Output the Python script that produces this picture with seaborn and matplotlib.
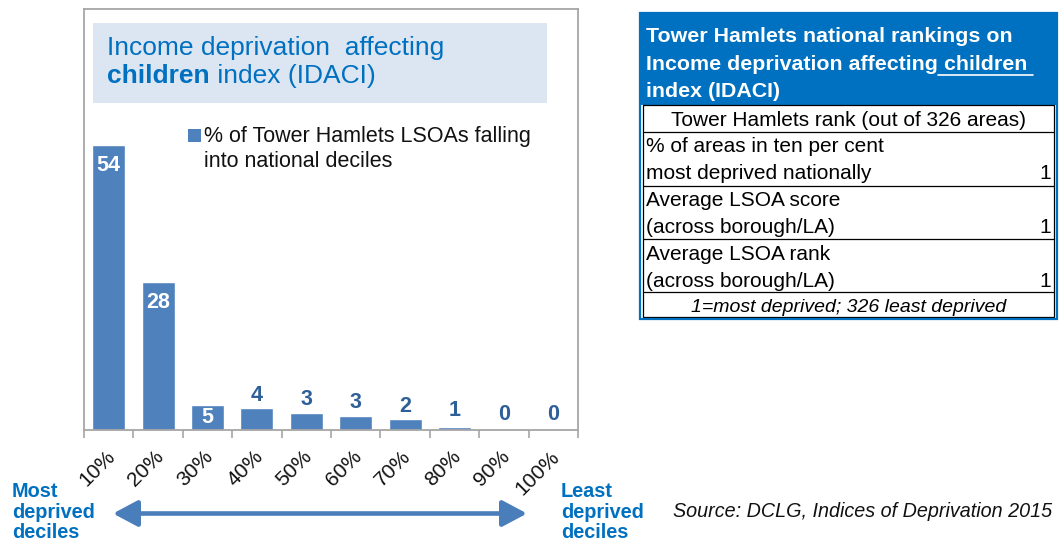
import matplotlib
matplotlib.use("Agg")
import matplotlib.pyplot as plt
import matplotlib.transforms as mtransforms
import seaborn as sns
import pandas as pd
from matplotlib.patches import Rectangle, FancyArrowPatch
from matplotlib.lines import Line2D

# ---------------- data ----------------
deciles = ['10%', '20%', '30%', '40%', '50%', '60%', '70%', '80%', '90%', '100%']
pct_lsoas = [54, 28, 4.7, 4.1, 3.3, 2.7, 2.0, 0.6, 0, 0]
legend_label = "% of Tower Hamlets LSOAs falling\ninto national deciles"

table_title = ["Tower Hamlets national rankings on",
               "Income deprivation affecting", " children ", "index (IDACI)"]
table_subhead = "Tower Hamlets rank (out of 326 areas)"
table_rows = [("% of areas in ten per cent", "most deprived nationally", "1"),
              ("Average LSOA score", "(across borough/LA)", "1"),
              ("Average LSOA rank", "(across borough/LA)", "1")]
table_note = "1=most deprived; 326 least deprived"
source_text = "Source: DCLG, Indices of Deprivation 2015"

# ---------------- style ----------------
sns.set_style("white")
plt.rcParams['font.family'] = ['Liberation Sans', 'DejaVu Sans']

W, H = 1061, 544
fig = plt.figure(figsize=(W / 100, H / 100), dpi=100)

def fx(px):
    return px / W

def fy(py):
    return 1 - py / H

BAR = '#4F81BD'
BLUE = '#0070C0'
GREY = '#A6A6A6'
LABEL_DARK = '#2F5F98'

# ---------------- bar chart ----------------
ax_l, ax_r, ax_t, ax_b = 84, 578, 9, 430
ax = fig.add_axes([fx(ax_l), fy(ax_b), (ax_r - ax_l) / W, (ax_b - ax_t) / H])
df = pd.DataFrame({'decile': deciles, 'pct': pct_lsoas})
sns.barplot(data=df, x='decile', y='pct', color=BAR, saturation=1,
            width=0.67, ax=ax)
ax.set_xlim(-0.5, len(deciles) - 0.5)
ax.set_ylim(0, 79.8)
ax.set_xlabel('')
ax.set_ylabel('')
ax.set_yticks([])
for s in ax.spines.values():
    s.set_visible(True)
    s.set_color(GREY)
    s.set_linewidth(1.3)
ax.set_xticks(range(len(deciles)))
ax.set_xticklabels(deciles, rotation=45, ha='right', va='center',
                   rotation_mode='anchor', fontsize=15, color='#111111')
ax.tick_params(axis='x', which='major', length=0, pad=17)
shift = mtransforms.ScaledTranslation(3 / 100, 0, fig.dpi_scale_trans)
for lab in ax.get_xticklabels():
    lab.set_transform(lab.get_transform() + shift)
ax.set_xticks([i - 0.5 for i in range(len(deciles) + 1)], minor=True)
ax.tick_params(axis='x', which='minor', length=5.5, width=1.2, color=GREY,
               direction='out', bottom=True)

# bar labels
fig.canvas.draw()
px_per_unit = (ax_b - ax_t) / 79.8
for i, v in enumerate(pct_lsoas):
    txt = f"{v:.0f}"
    h_px = v * px_per_unit
    if v >= 4.5:
        off = -min(20, h_px / 2)
        ax.annotate(txt, (i, v), xytext=(0, off * 0.72), textcoords='offset points',
                    ha='center', va='center', fontsize=15.5, fontweight='bold',
                    color='white')
    else:
        off = 16 if v < 1 else 13
        ax.annotate(txt, (i, v), xytext=(0, off * 0.72), textcoords='offset points',
                    ha='center', va='center', fontsize=15.5, fontweight='bold',
                    color=LABEL_DARK)

# title box
fig.patches.append(Rectangle((fx(93), fy(103)), (547 - 93) / W, (103 - 23) / H,
                             transform=fig.transFigure, facecolor='#DCE6F2',
                             edgecolor='none', zorder=3))
tfs = 19
fig.text(fx(107), fy(55), "Income deprivation  affecting", fontsize=tfs,
         color=BLUE, va='baseline', ha='left', zorder=4)
r = fig.canvas.get_renderer()
t_b = fig.text(fx(107), fy(83), "children", fontsize=tfs, fontweight='bold',
               color=BLUE, va='baseline', ha='left', zorder=4)
bb = t_b.get_window_extent(renderer=r)
fig.text(bb.x1 / W, fy(83), " index (IDACI)", fontsize=tfs,
         color=BLUE, va='baseline', ha='left', zorder=4)

# legend
fig.patches.append(Rectangle((fx(188), fy(142)), 13 / W, 13 / H,
                             transform=fig.transFigure, facecolor=BAR,
                             edgecolor='none', zorder=4))
for k, line in enumerate(legend_label.split("\n")):
    fig.text(fx(204), fy(142 + 24.5 * k), line, fontsize=15.5, color='#111111',
             va='baseline', ha='left', zorder=4)

# bottom annotations
for k, line in enumerate(["Most", "deprived", "deciles"]):
    fig.text(fx(12), fy(497 + 20.5 * k), line, fontsize=14.3, fontweight='bold',
             color=BLUE, va='baseline', ha='left')
for k, line in enumerate(["Least", "deprived", "deciles"]):
    fig.text(fx(561), fy(497 + 20.5 * k), line, fontsize=14.3, fontweight='bold',
             color=BLUE, va='baseline', ha='left')
arrow = FancyArrowPatch((fx(113), fy(513.5)), (fx(527), fy(513.5)),
                        transform=fig.transFigure,
                        arrowstyle='<|-|>,head_length=15,head_width=8',
                        mutation_scale=1, lw=3.3, color='#4A7EBB',
                        shrinkA=0, shrinkB=0)
fig.patches.append(arrow)

fig.text(fx(673), fy(517), source_text, fontsize=14.25, style='italic',
         color='#111111', va='baseline', ha='left')

# ---------------- ranking table ----------------
tl, tr, tt, tb = 640, 1057, 13, 319
fig.patches.append(Rectangle((fx(tl), fy(105)), (tr - tl) / W, (105 - tt) / H,
                             transform=fig.transFigure, facecolor=BLUE,
                             edgecolor='none'))
fig.patches.append(Rectangle((fx(643), fy(317)), (1054 - 643) / W, (317 - 105) / H,
                             transform=fig.transFigure, facecolor='white',
                             edgecolor='black', lw=0.9))
for yy in [132, 186, 239, 292]:
    fig.lines.append(Line2D([fx(643), fx(1054)], [fy(yy), fy(yy)],
                            transform=fig.transFigure, color='black', lw=0.9))
fig.patches.append(Rectangle((fx(tl), fy(tb)), (tr - tl) / W, (tb - tt) / H,
                             transform=fig.transFigure, facecolor='none',
                             edgecolor=BLUE, lw=1.6))

hfs = 15.4
fig.text(fx(646), fy(42), table_title[0], fontsize=hfs, fontweight='bold',
         color='white', va='baseline', ha='left')
t2 = fig.text(fx(646), fy(70), table_title[1], fontsize=hfs, fontweight='bold',
              color='white', va='baseline', ha='left')
bb2 = t2.get_window_extent(renderer=r)
t3 = fig.text(bb2.x1 / W, fy(70), table_title[2], fontsize=hfs, fontweight='bold',
              color='white', va='baseline', ha='left')
bb3 = t3.get_window_extent(renderer=r)
fig.lines.append(Line2D([bb3.x0 / W, bb3.x1 / W], [fy(75), fy(75)],
                        transform=fig.transFigure, color='white', lw=1.2))
fig.text(fx(646), fy(97), table_title[3], fontsize=hfs, fontweight='bold',
         color='white', va='baseline', ha='left')

rfs = 15
fig.text(fx((tl + tr) / 2), fy(126), table_subhead, fontsize=rfs, color='black',
         va='baseline', ha='center')
row_base = [152, 206, 260]
for (l1, l2, val), yb in zip(table_rows, row_base):
    fig.text(fx(646), fy(yb), l1, fontsize=rfs, color='black', va='baseline', ha='left')
    fig.text(fx(646), fy(yb + 27), l2, fontsize=rfs, color='black', va='baseline', ha='left')
    fig.text(fx(1051), fy(yb + 27), val, fontsize=rfs, color='black', va='baseline', ha='right')
fig.text(fx((tl + tr) / 2), fy(312), table_note, fontsize=14, style='italic',
         color='black', va='baseline', ha='center')

fig.savefig("out.png", dpi=100)
